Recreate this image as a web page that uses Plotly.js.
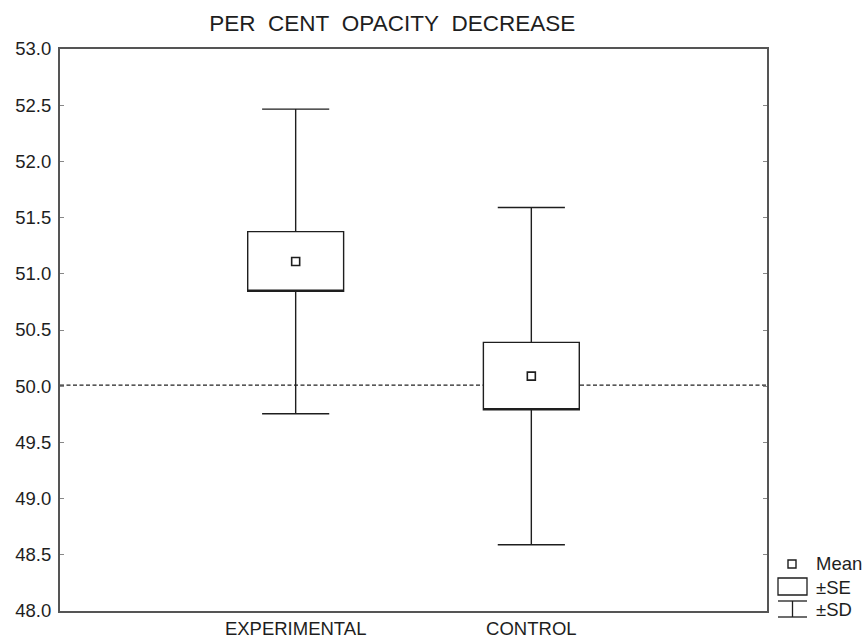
<!DOCTYPE html>
<html>
<head>
<meta charset="utf-8">
<script src="https://cdn.plot.ly/plotly-3.0.1.min.js"></script>
<style>html,body{margin:0;padding:0;background:#fff;}#chart{width:862px;height:640px;}</style>
</head>
<body>
<div id="chart"></div>
<script>
const categories = ['EXPERIMENTAL', 'CONTROL'];
const means = [51.11, 50.09];
const se = [0.265, 0.30];
const sd = [1.355, 1.50];
const refLine = 50.01;
const yTickVals = [48.0, 48.5, 49.0, 49.5, 50.0, 50.5, 51.0, 51.5, 52.0, 52.5, 53.0];

const FONT = 'Liberation Sans, Arial, sans-serif';
const ink = '#1e1e1e';

const q1 = means.map((m, i) => m - se[i]);
const q3 = means.map((m, i) => m + se[i]);
const lo = means.map((m, i) => m - sd[i]);
const hi = means.map((m, i) => m + sd[i]);

const boxTrace = {
  type: 'box',
  x: categories,
  q1: q1, median: q1, q3: q3,
  lowerfence: lo, upperfence: hi,
  width: 0.407,
  whiskerwidth: 0.7,
  boxpoints: false,
  fillcolor: 'white',
  line: {color: ink, width: 1.4},
  showlegend: false,
  hoverinfo: 'skip'
};
const meanTrace = {
  type: 'scatter', mode: 'markers',
  x: categories, y: means,
  marker: {symbol: 'square-open', size: 8, color: ink, line: {width: 1.6, color: ink}},
  showlegend: false, hoverinfo: 'skip'
};

// legend built in paper coordinates (plot area: x 60..767, y 49..611)
const L = 60, W = 707, T = 49, H = 562;
const px = v => (v - L) / W;
const py = v => (T + H - v) / H;
const shapes = [
  {type: 'line', xref: 'paper', x0: 0, x1: 1, yref: 'y', y0: refLine, y1: refLine,
   line: {color: '#222', width: 1.4, dash: '4px,2.5px'}, layer: 'below'},
  {type: 'rect', xref: 'paper', yref: 'paper', x0: px(788), x1: px(796), y0: py(560), y1: py(568),
   line: {color: ink, width: 1.4}, fillcolor: 'white'},
  {type: 'rect', xref: 'paper', yref: 'paper', x0: px(778), x1: px(807), y0: py(578), y1: py(595),
   line: {color: ink, width: 1.3}, fillcolor: 'white'},
  {type: 'line', xref: 'paper', yref: 'paper', x0: px(778), x1: px(807), y0: py(601), y1: py(601),
   line: {color: ink, width: 1.3}},
  {type: 'line', xref: 'paper', yref: 'paper', x0: px(778), x1: px(807), y0: py(617), y1: py(617),
   line: {color: ink, width: 1.3}},
  {type: 'line', xref: 'paper', yref: 'paper', x0: px(792.5), x1: px(792.5), y0: py(601), y1: py(617),
   line: {color: ink, width: 1.3}}
];
const legendLabels = ['Mean', '±SE', '±SD'];
const legendY = [563, 587, 609];
const annotations = legendLabels.map((t, i) => ({
  text: t, xref: 'paper', yref: 'paper', x: px(814), y: py(legendY[i]),
  xanchor: 'left', yanchor: 'middle', showarrow: false,
  font: {family: FONT, size: 18.5, color: ink}
}));

const layout = {
  width: 862, height: 640,
  margin: {l: 60, r: 95, t: 49, b: 29, pad: 0},
  paper_bgcolor: 'white', plot_bgcolor: 'white',
  font: {family: FONT, size: 18.5, color: ink},
  title: {text: 'PER&nbsp;&nbsp;CENT&nbsp;&nbsp;OPACITY&nbsp;&nbsp;DECREASE', font: {family: FONT, size: 22.5, color: ink},
          xref: 'paper', x: 0.47, xanchor: 'center', yref: 'container', y: 1 - 23.5/640, yanchor: 'middle'},
  xaxis: {type: 'category', range: [-1, 2], showgrid: false, zeroline: false,
          showline: true, mirror: true, linecolor: '#555', linewidth: 2,
          ticks: '', tickfont: {family: FONT, size: 18.5, color: ink}, fixedrange: true},
  yaxis: {range: [48, 53], tickvals: yTickVals, tickformat: '.1f', showgrid: false, zeroline: false,
          showline: true, mirror: 'ticks', linecolor: '#555', linewidth: 2,
          ticks: 'inside', ticklen: 4, tickwidth: 1, tickcolor: '#888',
          ticklabelstandoff: 3,
          tickfont: {family: FONT, size: 18.5, color: ink}, fixedrange: true},
  shapes: shapes,
  annotations: annotations,
  showlegend: false
};

Plotly.newPlot('chart', [boxTrace, meanTrace], layout, {displayModeBar: false, staticPlot: true});
</script>
</body>
</html>
